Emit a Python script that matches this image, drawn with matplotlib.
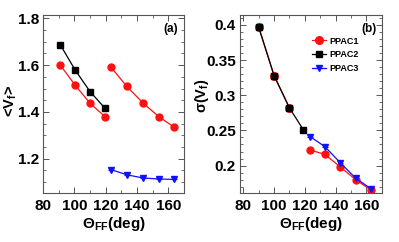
import matplotlib
matplotlib.use('Agg')
import matplotlib.pyplot as plt
from matplotlib.ticker import MultipleLocator

plt.rcParams['font.family'] = ['Liberation Sans', 'DejaVu Sans']
plt.rcParams['font.weight'] = 'bold'
plt.rcParams['mathtext.fontset'] = 'custom'
plt.rcParams['mathtext.rm'] = 'Liberation Sans:bold'
plt.rcParams['mathtext.it'] = 'Liberation Sans:bold'
plt.rcParams['mathtext.bf'] = 'Liberation Sans:bold'

# panel (a): mean fragment velocity
a_red1_x = [91, 100.5, 110, 119.5]
a_red1_y = [1.600, 1.514, 1.437, 1.380]
a_blk_x = [91, 100.5, 110, 119.5]
a_blk_y = [1.687, 1.579, 1.487, 1.416]
a_red2_x = [123.5, 133.5, 144, 154, 163.5]
a_red2_y = [1.590, 1.509, 1.437, 1.379, 1.336]
a_blu_x = [123.5, 133.5, 144, 154, 163.5]
a_blu_y = [1.153, 1.131, 1.117, 1.113, 1.111]

# panel (b): width of velocity distribution
b_red1_x = [90, 100, 110]
b_red1_y = [0.397, 0.328, 0.282]
b_red2_x = [123.5, 133, 143, 153, 163]
b_red2_y = [0.222, 0.216, 0.198, 0.180, 0.165]
b_blk_x = [90, 100, 110, 119]
b_blk_y = [0.397, 0.328, 0.282, 0.251]
b_blu_x = [123.5, 133, 143, 153, 163]
b_blu_y = [0.241, 0.227, 0.204, 0.182, 0.167]

xerr = 1.8
a_yticks = [1.2, 1.4, 1.6, 1.8]
b_yticks = [0.2, 0.25, 0.3, 0.35, 0.4]
b_ylabels = ['0.2', '0.25', '0.3', '0.35', '0.4']
xticks = [80, 100, 120, 140, 160]

fig = plt.figure(figsize=(3.99, 2.42), dpi=100)
ax1 = fig.add_axes([0.108, 0.2025, 0.353, 0.735])
ax2 = fig.add_axes([0.602, 0.2025, 0.355, 0.735])

kw = dict(ms=5, lw=0.9, elinewidth=0.8, capsize=0)
red = '#ff1010'
blue = '#1010ff'

ax1.errorbar(a_red1_x, a_red1_y, xerr=xerr, fmt='-o', color=red, **kw)
ax1.errorbar(a_blk_x, a_blk_y, xerr=xerr, fmt='-s', color='black', **kw)
ax1.errorbar(a_red2_x, a_red2_y, xerr=xerr, fmt='-o', color=red, **kw)
ax1.errorbar(a_blu_x, a_blu_y, xerr=xerr, fmt='-v', color=blue, **kw)

ax2.errorbar(b_red1_x, b_red1_y, xerr=xerr, fmt='-o', color=red, label='PPAC1',
             ms=5.5, lw=0.9, elinewidth=0.8, capsize=0)
ax2.errorbar(b_red2_x, b_red2_y, xerr=xerr, fmt='-o', color=red, **kw)
ax2.errorbar(b_blk_x, b_blk_y, xerr=xerr, fmt='-s', color='black', label='PPAC2', **kw)
ax2.errorbar(b_blu_x, b_blu_y, xerr=xerr, fmt='-v', color=blue, label='PPAC3', **kw)

ax1.set_xlim(80, 170)
ax1.set_ylim(1.053, 1.814)
ax1.set_yticks(a_yticks)
ax1.set_yticklabels([str(v) for v in a_yticks])
ax1.yaxis.set_minor_locator(MultipleLocator(0.05))

ax2.set_xlim(78, 170)
ax2.set_ylim(0.161, 0.414)
ax2.set_yticks(b_yticks)
ax2.set_yticklabels(b_ylabels)
ax2.yaxis.set_minor_locator(MultipleLocator(0.01))

for ax in (ax1, ax2):
    ax.set_xticks(xticks)
    ax.set_xticklabels([str(v) for v in xticks])
    ax.xaxis.set_minor_locator(MultipleLocator(10))
    ax.tick_params(which='both', direction='in', top=True, right=True,
                   labelsize=11, color='#555555', pad=4)
    ax.tick_params(axis='y', which='major', pad=3)
    ax.tick_params(which='major', length=4, width=0.7)
    ax.tick_params(which='minor', length=2, width=0.6)
    for s in ax.spines.values():
        s.set_color('#555555')
        s.set_linewidth(0.8)
    ax.set_xlabel(r'$\Theta_{FF}$(deg)', fontsize=11, fontweight='bold', labelpad=2)

ax1.set_ylabel(r'<V$_f$>', fontsize=10.5, fontweight='bold')
ax1.yaxis.set_label_coords(-0.17, 0.52)
ax2.set_ylabel(r'$\sigma$(V$_f$)', fontsize=10.5, fontweight='bold')
ax2.yaxis.set_label_coords(-0.205, 0.55)

ax1.text(0.96, 0.955, '(a)', transform=ax1.transAxes, ha='right', va='top',
         fontsize=8.5, fontweight='bold')
ax2.text(0.96, 0.955, '(b)', transform=ax2.transAxes, ha='right', va='top',
         fontsize=8.5, fontweight='bold')

leg = ax2.legend(loc='upper right', bbox_to_anchor=(0.86, 0.9), frameon=False,
                 fontsize=6.5, handlelength=1.6, handletextpad=0.3,
                 labelspacing=0.55, borderaxespad=0)
for t in leg.get_texts():
    t.set_fontweight('bold')

fig.savefig('out.png', dpi=100)
